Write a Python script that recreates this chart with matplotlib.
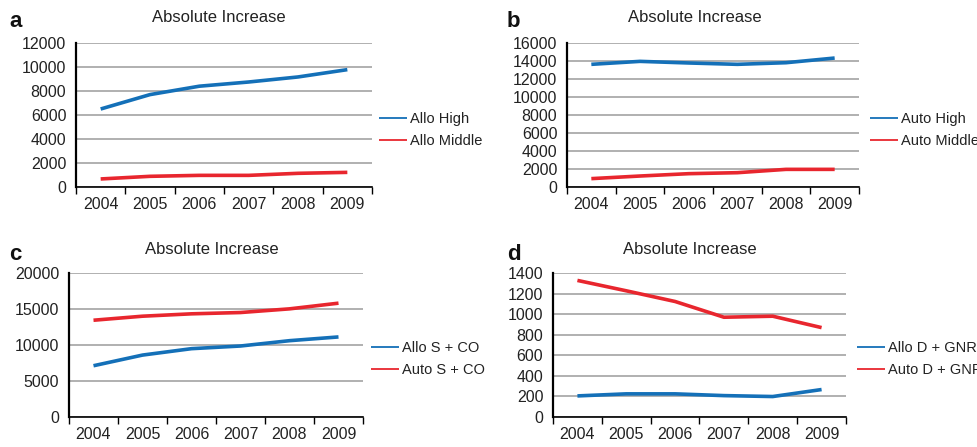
import matplotlib.pyplot as plt
from matplotlib.ticker import FixedLocator, MultipleLocator

plt.rcParams['font.family'] = ['Liberation Sans', 'DejaVu Sans']

years = ['2004', '2005', '2006', '2007', '2008', '2009']

allo_high = [6500, 7700, 8400, 8750, 9170, 9780]
allo_middle = [670, 890, 970, 970, 1140, 1220]

auto_high = [13630, 13960, 13780, 13630, 13810, 14330]
auto_middle = [930, 1220, 1480, 1590, 1960, 1960]

allo_sco = [7120, 8600, 9490, 9860, 10600, 11120]
auto_sco = [13440, 14000, 14330, 14510, 15020, 15810]

allo_dgnr = [205, 225, 225, 208, 199, 267]
auto_dgnr = [1328, 1227, 1123, 970, 980, 869]

BLUE = '#1470b8'
RED = '#e8262e'
W, H = 978, 447

fig = plt.figure(figsize=(W / 100, H / 100), dpi=100)


def px_axes(l, t, r, b):
    return fig.add_axes([l / W, 1 - b / H, (r - l) / W, (b - t) / H])


panels = [
    # letter, box, ymax, ystep, series, legend pos, title pos, letter pos
    ('a', (76, 43, 372, 187), 12000, 2000,
     [(allo_high, 'Allo High', BLUE), (allo_middle, 'Allo Middle', RED)],
     (379, 130), (219, 17), (9, 27)),
    ('b', (567, 43, 859, 187), 16000, 2000,
     [(auto_high, 'Auto High', BLUE), (auto_middle, 'Auto Middle', RED)],
     (870, 130), (695, 17), (507, 27)),
    ('c', (69, 273, 363, 417), 20000, 5000,
     [(allo_sco, 'Allo S + CO', BLUE), (auto_sco, 'Auto S + CO', RED)],
     (371, 359), (212, 250), (9, 260)),
    ('d', (553, 273, 846, 417), 1400, 200,
     [(allo_dgnr, 'Allo D + GNR', BLUE), (auto_dgnr, 'Auto D + GNR', RED)],
     (857, 359), (690, 250), (507, 260)),
]

x = list(range(len(years)))

for letter, box, ymax, ystep, series, legpos, titlepos, letpos in panels:
    ax = px_axes(*box)
    for vals, lab, col in series:
        ax.plot(x, vals, color=col, lw=2.6, label=lab, solid_capstyle='butt')
    ax.set_xlim(-0.5, len(years) - 0.5)
    ax.set_ylim(0, ymax)
    ax.yaxis.set_major_locator(MultipleLocator(ystep))
    ax.set_yticklabels([str(int(v)) for v in ax.get_yticks()])
    for v in ax.get_yticks()[1:]:
        ax.axhline(v, color='#a3a3a3', lw=1.2, zorder=0)

    ax.set_xticks(x)
    ax.set_xticklabels(years)
    ax.xaxis.set_minor_locator(FixedLocator([i - 0.5 for i in range(len(years) + 1)]))
    ax.tick_params(axis='x', which='major', length=0, pad=7, labelsize=11.5, colors='#222222')
    ax.tick_params(axis='x', which='minor', length=5, width=1, color='black')
    ax.tick_params(axis='y', length=0, pad=7, labelsize=11.5, colors='#222222')

    for s in ['top', 'right']:
        ax.spines[s].set_visible(False)
    ax.spines['left'].set_linewidth(1.6)
    ax.spines['bottom'].set_linewidth(1.2)

    leg = ax.legend(loc='center left', bbox_to_anchor=(legpos[0] / W, 1 - legpos[1] / H),
                    bbox_transform=fig.transFigure, frameon=False, fontsize=10.5,
                    handlelength=1.9, handletextpad=0.25, labelspacing=0.55,
                    borderpad=0, borderaxespad=0)
    for ln in leg.get_lines():
        ln.set_linewidth(1.3)
    for t in leg.get_texts():
        t.set_color('#222222')

    fig.text(titlepos[0] / W, 1 - titlepos[1] / H, 'Absolute Increase',
             ha='center', va='center', fontsize=12, color='#222222')
    fig.text(letpos[0] / W, 1 - letpos[1] / H, letter, ha='left', va='baseline',
             fontsize=16, fontweight='bold', color='#111111')

fig.savefig('out.png', dpi=100)
